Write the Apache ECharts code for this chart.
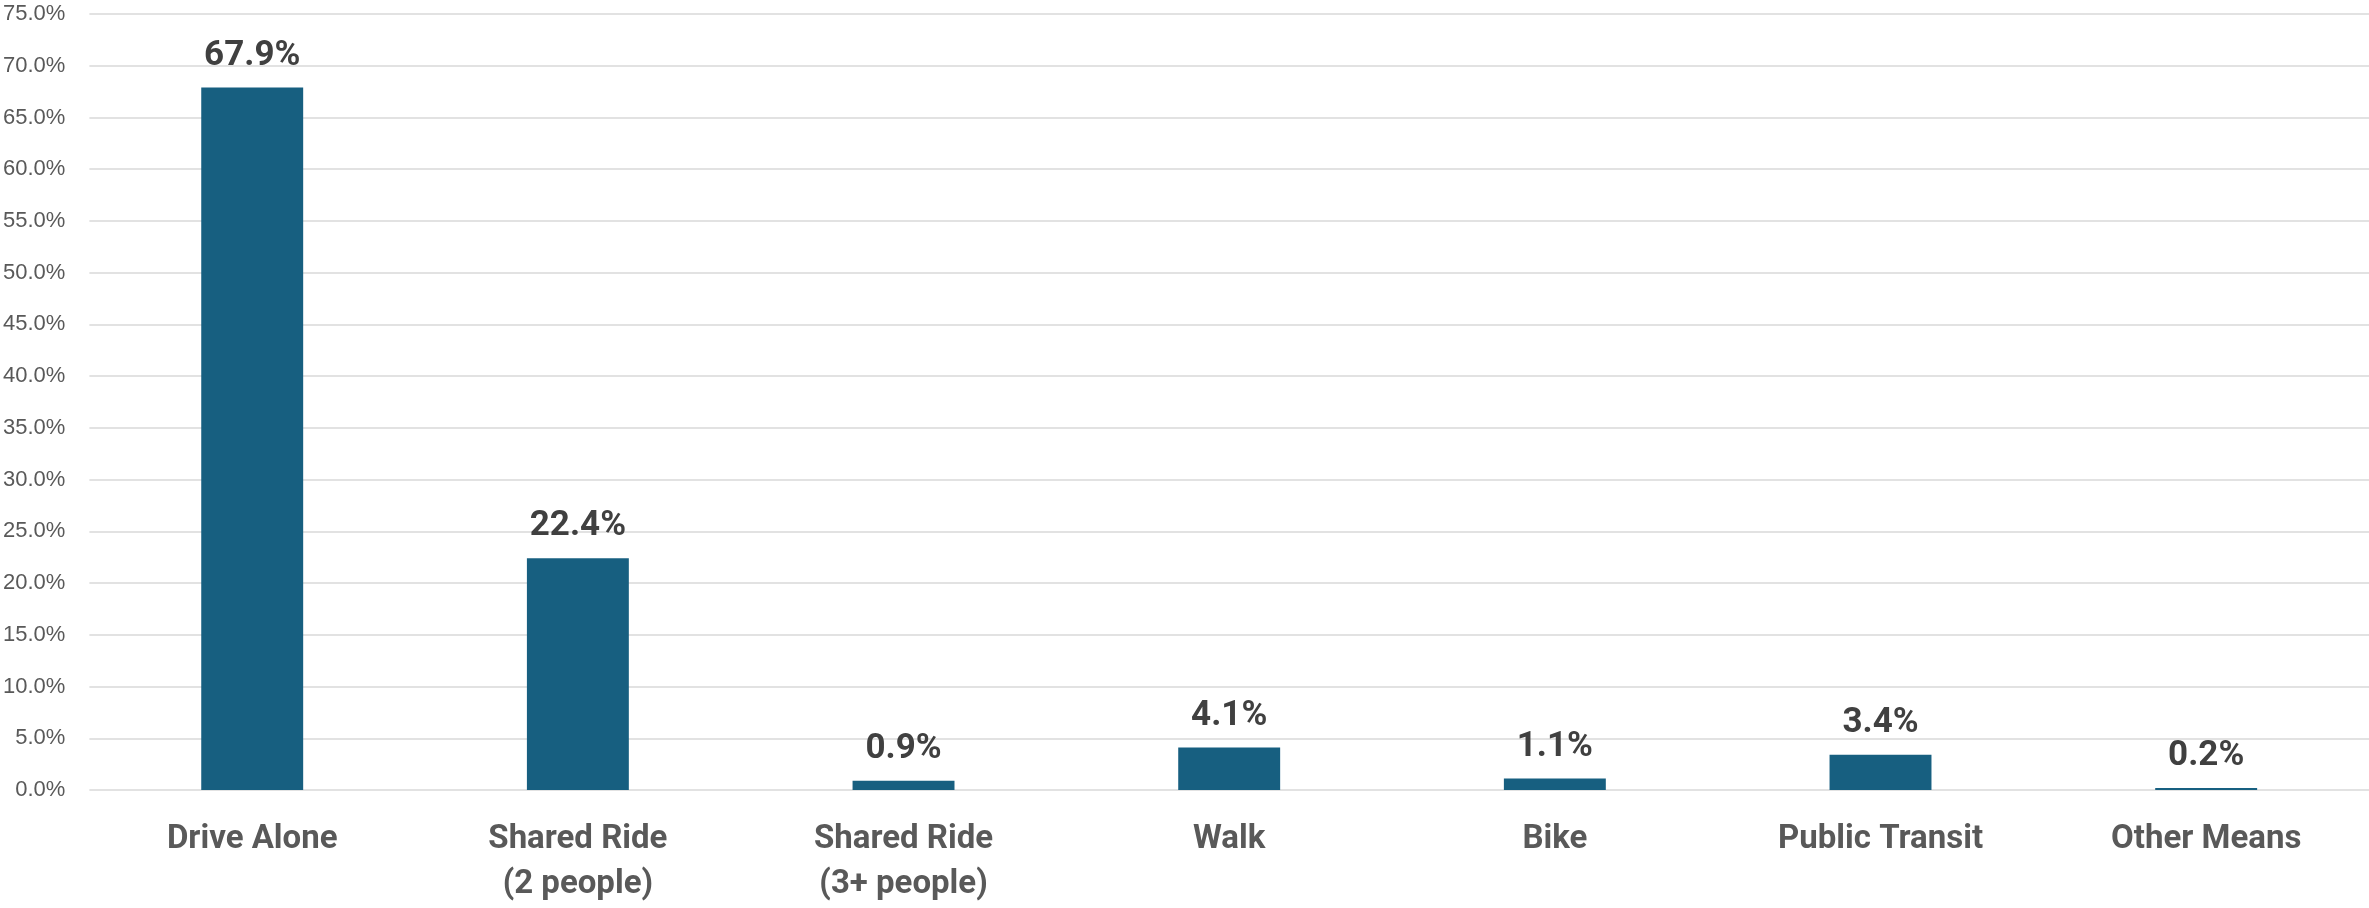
<!DOCTYPE html>
<html>
<head>
<meta charset="utf-8">
<script src="https://cdn.jsdelivr.net/npm/echarts@6/dist/echarts.min.js"></script>
<style>
html,body{margin:0;padding:0;background:#fff}
#chart{width:2369px;height:908px}
</style>
</head>
<body>
<div id="chart"></div>
<script>
// 通勤方式占比
const categories = ['Drive Alone', 'Shared Ride\n(2 people)', 'Shared Ride\n(3+ people)', 'Walk', 'Bike', 'Public Transit', 'Other Means']
const shares = [67.9, 22.4, 0.9, 4.1, 1.1, 3.4, 0.2]
const yTicks = { min: 0, max: 75, interval: 5 }

let myChart = echarts.init(document.getElementById('chart'))
myChart.setOption({
  animation: false,
  grid: {
    left: 86,
    right: -3,
    top: 14,
    bottom: 118
  },
  xAxis: {
    type: 'category',
    data: categories,
    axisLine: { show: false },
    axisTick: { show: false },
    axisLabel: {
      margin: 27,
      fontFamily: 'Roboto',
      fontWeight: 'bold',
      fontSize: 33,
      lineHeight: 45,
      color: '#595959'
    }
  },
  yAxis: {
    type: 'value',
    min: yTicks.min,
    max: yTicks.max,
    interval: yTicks.interval,
    axisLine: { show: false },
    axisTick: { show: false },
    axisLabel: {
      margin: 24,
      fontFamily: 'Liberation Sans',
      fontSize: 22,
      color: '#595959',
      formatter: v => v.toFixed(1) + '%'
    },
    splitLine: {
      lineStyle: { color: '#d9d9d9', width: 1.5 }
    }
  },
  series: [
    {
      type: 'bar',
      data: shares,
      barWidth: '31.3%',
      itemStyle: { color: '#175f80' },
      label: {
        show: true,
        position: 'top',
        distance: 14,
        fontFamily: 'Roboto',
        fontWeight: 'bold',
        fontSize: 35,
        color: '#404040',
        formatter: p => p.value.toFixed(1) + '%'
      }
    }
  ]
})
</script>
</body>
</html>
